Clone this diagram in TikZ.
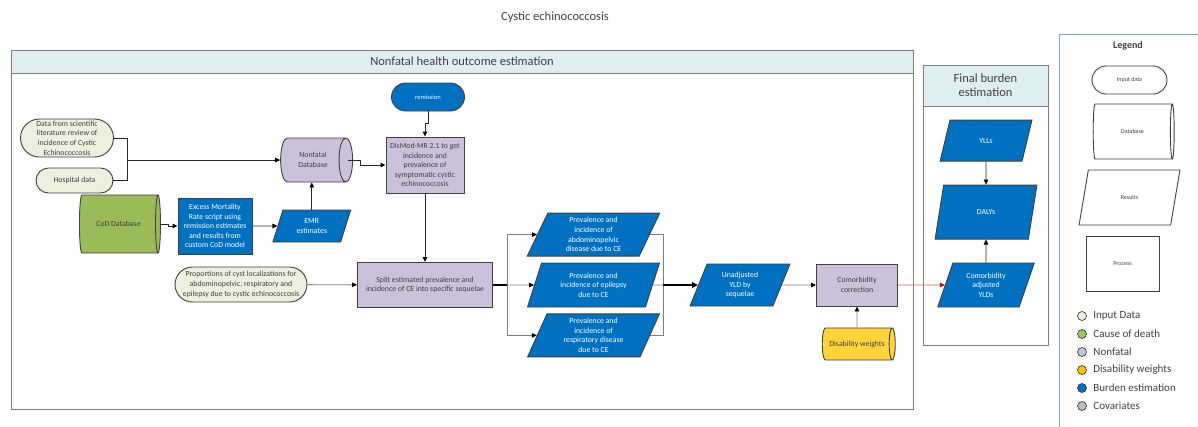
\documentclass[tikz,border=0pt]{standalone}
\usepackage{fontspec}
\setmainfont{Carlito}
\usetikzlibrary{positioning, arrows.meta, shapes.geometric, shapes.misc}

\definecolor{inputfill}{HTML}{EBF1DE}
\definecolor{codfill}{HTML}{9BBB59}
\definecolor{codgreen}{HTML}{92D050}
\definecolor{nffill}{HTML}{CCC1DA}
\definecolor{burden}{HTML}{0070C0}
\definecolor{dwfill}{HTML}{FFD43B}
\definecolor{dworange}{HTML}{FFC000}
\definecolor{headfill}{HTML}{DEEEF3}
\definecolor{edgegray}{HTML}{404040}
\definecolor{linegray}{HTML}{7F7F7F}
\definecolor{legline}{HTML}{7EA6D8}
\definecolor{covfill}{HTML}{BFBFBF}
\definecolor{redline}{HTML}{E05A5A}

\begin{document}
\begin{tikzpicture}[
    x=1pt, y=-1pt,
    node distance=6pt,
    every node/.style={font=\fontsize{7.8}{9.6}\selectfont, text=edgegray},
    box/.style={draw=edgegray, line width=0.9pt, align=center, inner sep=0pt},
    inp/.style={box, rectangle, rounded corners=#1, fill=inputfill},
    db/.style={box, cylinder, shape aspect=0.9, fill=#1},
    proc/.style={box, rectangle, fill=nffill},
    res/.style={box, trapezium, trapezium left angle=70, trapezium right angle=110,
                trapezium stretches=true, fill=burden, text=white},
    frame/.style={draw=linegray, line width=1pt},
    ln/.style={line width=0.9pt, draw=black!85},
    gln/.style={line width=0.9pt, draw=linegray},
    arr/.style={ln, -{Triangle[length=5pt, width=4.5pt, color=black]}},
    garr/.style={gln, -{Triangle[length=5pt, width=4.5pt, color=black]}},
    thk/.style={line width=1.7pt, draw=black},
    legdot/.style={circle, draw=edgegray, line width=0.7pt, minimum size=9pt, inner sep=0pt},
    legtxt/.style={font=\fontsize{11}{13}\selectfont, anchor=west},
]
\useasboundingbox (0,0) rectangle (1198,426);

% frames
\node[font=\fontsize{12.5}{14}\selectfont] (title) at (555,17) {Cystic echinococcosis};

\draw[frame] (11,50) rectangle (913,409);
\draw[frame, fill=headfill] (11,50) rectangle (913,73);
\node[font=\fontsize{12.5}{14}\selectfont] (nfhead) at (462,61.5) {Nonfatal health outcome estimation};

\draw[frame] (923,65) rectangle (1048,345);
\draw[frame, fill=headfill] (923,65) rectangle (1048,106);
\node[font=\fontsize{12.5}{14}\selectfont, align=center] (fbhead) at (985.5,85.5) {Final burden\\estimation};

\draw[legline, line width=0.8pt] (1059,440) -- (1059,34) -- (1215,34);

% input data
\node[inp=19pt, minimum width=93pt, minimum height=38pt] (lit) at (67,138)
    {Data from scientific\\literature review of\\incidence of Cystic\\Echinococcosis};
\node[inp=12.5pt, minimum width=77pt, minimum height=25pt] (hosp) at (74.5,180.5) {Hospital data};
\node[inp=17.5pt, minimum width=132pt, minimum height=35pt] (prop) at (241,284.5)
    {Proportions of cyst localizations for\\abdominopelvic, respiratory and\\epilepsy due to cystic echinococcosis};

% databases (cylinder: height runs along the axis)
\node[db=nffill, minimum height=72pt, minimum width=44pt] (nfdb) at (313,160) {Nonfatal\\Database};
\node[db=codfill, minimum height=81pt, minimum width=58pt] (cod) at (118.5,224) {CoD Database};
\node[db=dwfill, minimum height=73pt, minimum width=32pt] (dw) at (857,344) {Disability weights};

% processes
\node[inp=14pt, fill=burden, text=white, minimum width=73pt, minimum height=28pt,
      font=\fontsize{6.5}{8}\selectfont] (remission) at (428,97) {remission};
\node[proc, minimum width=78pt, minimum height=56pt] (dismod) at (425,165)
    {DisMod-MR 2.1 to get\\incidence and\\prevalence of\\symptomatic cystic\\echinococcosis};
\node[box, fill=burden, text=white, minimum width=74pt, minimum height=56pt] (excess) at (215,226)
    {Excess Mortality\\Rate script using\\remission estimates\\and results from\\custom CoD model};
\node[res, minimum width=78pt, minimum height=32pt, right=25pt of excess] (emr) {EMR\\estimates};
\node[proc, minimum width=135pt, minimum height=45pt] (split) at (425,285)
    {Split estimated prevalence and\\incidence of CE into specific sequelae};

% sequelae
\node[res, minimum width=133pt, minimum height=44pt] (prevep) at (593.5,285)
    {Prevalence and\\incidence of epilepsy\\due to CE};
\node[res, minimum width=133pt, minimum height=43pt, above=of prevep] (prevab)
    {Prevalence and\\incidence of\\abdominopelvic\\disease due to CE};
\node[res, minimum width=133pt, minimum height=43pt, below=of prevep] (prevresp)
    {Prevalence and\\incidence of\\respiratory disease\\due to CE};

\node[res, minimum width=100pt, minimum height=42pt] (unadj) at (740,285) {Unadjusted\\YLD by\\sequelae};
\node[proc, minimum width=81pt, minimum height=42pt] (comorb) at (857,285) {Comorbidity\\correction};

% final burden
\node[res, minimum width=97pt, minimum height=44pt] (adjylds) at (986,285) {Comorbidity\\adjusted\\YLDs};
\node[res, minimum width=102pt, minimum height=54pt, above=23pt of adjylds] (dalys) {DALYs};
\node[res, minimum width=92pt, minimum height=41pt, above=23pt of dalys] (ylls) {YLLs};

% connectors
\coordinate (litjoin) at (127,160);
\draw[ln] (lit.east) -| (litjoin);
\draw[ln] (hosp.east) -| (litjoin);
\draw[arr] (litjoin) -- (nfdb.west);
\draw[arr] ([xshift=-5pt]nfdb.east) -- ++(12,0) |- (dismod.west);
\draw[arr] (remission.south) -- ++(0,12) -| (dismod.north);
\draw[arr] (dismod) -- (split);
\draw[arr] (cod.east) -- ++(8,0) |- (excess.west);
\draw[arr] (excess) -- (emr);
\draw[arr] (emr.north) -- (emr.north |- nfdb.south);
\draw[garr] (prop) -- (split);

\coordinate (fork) at (507,285);
\draw[thk] (split.east) -- (fork);
\draw[garr] (fork) |- (prevab.west);
\draw[garr] (fork) -- (prevep.west);
\draw[garr] (fork) |- (prevresp.west);

\coordinate (merge) at (663,285);
\draw[gln] (prevab.east) -| (merge);
\draw[gln] (prevresp.east) -| (merge);
\draw[gln] (prevep.east) -- (merge);
\draw[thk, -{Triangle[length=6pt, width=5.5pt]}] (merge) -- (unadj.west);

\draw[garr] (unadj) -- (comorb);
\draw[garr] (dw) -- (comorb);
\draw[line width=0.9pt, redline, -{Triangle[length=5pt, width=4.5pt, color=red!80!black]}] (comorb) -- (adjylds);
\draw[arr] (ylls) -- (dalys);
\draw[arr] (adjylds) -- (dalys);

% legend
\node[font=\bfseries\fontsize{10}{12}\selectfont] (legtitle) at (1128,46) {Legend};
\node[inp=14pt, fill=white, minimum width=75pt, minimum height=28pt,
      font=\fontsize{6}{7}\selectfont] (leginp) at (1129.5,80) {Input data};
\node[db=white, minimum height=81pt, minimum width=55pt,
      font=\fontsize{6}{7}\selectfont] (legdb) at (1132.5,131.5) {Database};
\node[res, fill=white, text=edgegray, minimum width=101pt, minimum height=55pt,
      trapezium left angle=65, trapezium right angle=115,
      font=\fontsize{6}{7}\selectfont] (legres) at (1129.5,197.5) {Results};
\node[box, fill=white, minimum width=73pt, minimum height=55pt,
      font=\fontsize{6}{7}\selectfont] (legproc) at (1122.5,263.5) {Process};

\foreach \c/\t [count=\i] in {inputfill/Input Data, codgreen/Cause of death, nffill/Nonfatal,
    dworange/Disability weights, burden/Burden estimation, covfill/Covariates}{
  \node[legdot, fill=\c] (dot\i) at (1082, {316+18*(\i-1)}) {};
  \node[legtxt, right=3pt of dot\i] (legtxt\i) {\t};
}
\end{tikzpicture}
\end{document}
